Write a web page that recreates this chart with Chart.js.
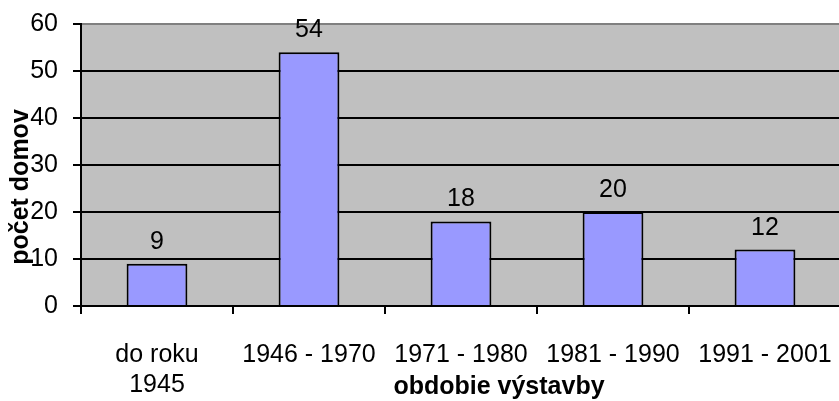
<!DOCTYPE html>
<html>
<head>
<meta charset="utf-8">
<script src="https://cdn.jsdelivr.net/npm/chart.js@4"></script>
<style>
  html, body { margin: 0; padding: 0; background: #fff; overflow: hidden; }
  #wrap { width: 841px; height: 401px; }
</style>
</head>
<body>
<div id="wrap"><canvas id="graf"></canvas></div>
<script>
// obdobia a pocty domov
const obdobia = [['do roku', '1945'], '1946 - 1970', '1971 - 1980', '1981 - 1990', '1991 - 2001']
const pocetDomov = [9, 54, 18, 20, 12]
const osY = { min: 0, max: 60, krok: 10 }
const nazovX = 'obdobie výstavby'
const nazovY = 'počet domov'

const pismo = 'Liberation Sans, Arial, sans-serif'

// sive pozadie plochy grafu
const pozadie = {
  id: 'pozadie',
  beforeDraw(chart) {
    const { ctx, chartArea: a } = chart
    ctx.save()
    ctx.fillStyle = '#c0c0c0'
    ctx.fillRect(a.left, a.top, a.right - a.left, a.bottom - a.top)
    ctx.restore()
  }
}

// hodnoty nad stlpcami a nazvy osi
const popisy = {
  id: 'popisy',
  afterDraw(chart) {
    const ctx = chart.ctx
    const a = chart.chartArea
    ctx.save()
    ctx.fillStyle = '#000'
    ctx.font = '25px ' + pismo
    ctx.textAlign = 'center'
    ctx.textBaseline = 'alphabetic'
    chart.getDatasetMeta(0).data.forEach((bar, i) => {
      ctx.fillText(String(pocetDomov[i]), bar.x, bar.y - 15)
    })
    ctx.font = 'bold 25px ' + pismo
    ctx.fillText(nazovX, a.left + 418, 394)
    ctx.translate(21, 187)
    ctx.rotate(-Math.PI / 2)
    ctx.textBaseline = 'middle'
    ctx.fillText(nazovY, 0, 0)
    ctx.restore()
  }
}

var grafico = document.getElementById('graf').getContext('2d')
new Chart(grafico, {
  type: 'bar',
  data: {
    labels: obdobia,
    datasets: [{
      data: pocetDomov,
      backgroundColor: '#9999ff',
      borderColor: '#000',
      borderWidth: 2,
      categoryPercentage: 1,
      barPercentage: 0.4
    }]
  },
  options: {
    responsive: true,
    maintainAspectRatio: false,
    animation: false,
    layout: { padding: { top: 24, left: 0, right: 0, bottom: 0 } },
    plugins: {
      legend: { display: false },
      tooltip: { enabled: false }
    },
    scales: {
      x: {
        afterFit: (s) => { s.height = 95; s.paddingLeft = 0; s.paddingRight = 0 },
        border: { color: '#000', width: 2 },
        grid: { offset: true, drawOnChartArea: false, drawTicks: true, tickLength: 8, color: '#000', lineWidth: 2 },
        ticks: { color: '#000', font: { family: pismo, size: 25, lineHeight: 1.2 }, padding: 26, maxRotation: 0, autoSkip: false }
      },
      y: {
        min: osY.min,
        max: osY.max,
        afterFit: (s) => { s.width = 81; s.paddingTop = 0; s.paddingBottom = 0 },
        border: { color: '#000', width: 2 },
        grid: {
          color: (c) => c.tick && c.tick.value === osY.max ? '#808080' : '#000',
          lineWidth: 2,
          tickLength: 8,
          tickColor: '#000'
        },
        ticks: { stepSize: osY.krok, color: '#000', font: { family: pismo, size: 25 }, padding: 15 }
      }
    }
  },
  plugins: [pozadie, popisy]
})
</script>
</body>
</html>
